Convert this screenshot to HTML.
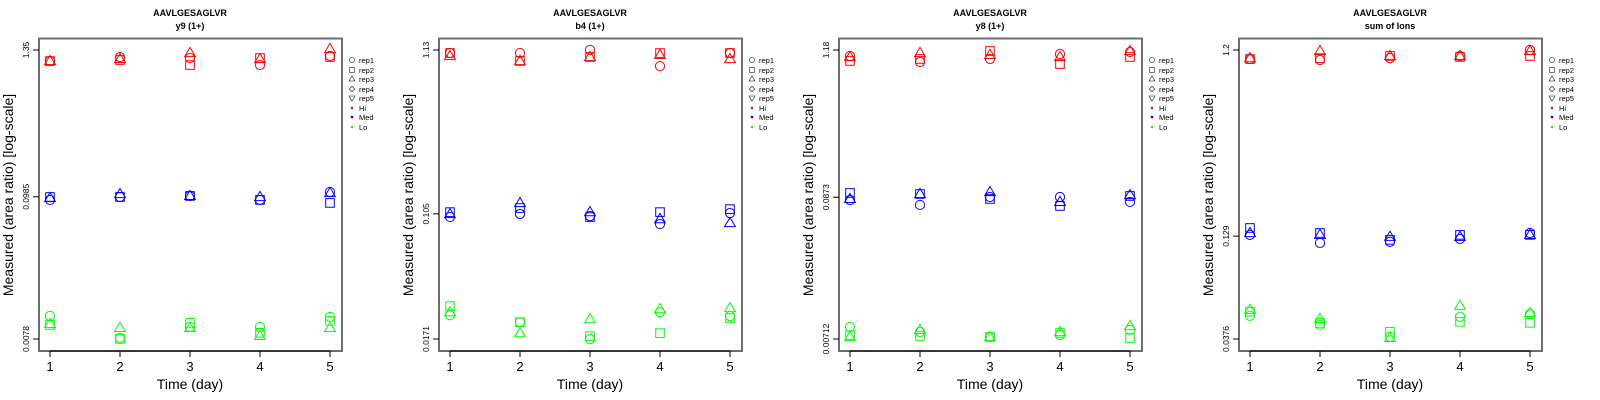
<!DOCTYPE html>
<html><head><meta charset="utf-8">
<style>
html,body{margin:0;padding:0;background:#fff;}
svg{display:block;font-family:"Liberation Sans",sans-serif;}
</style></head>
<body>
<svg id="chart" width="1600" height="400" viewBox="0 0 1600 400" xmlns="http://www.w3.org/2000/svg"></svg>
<script>
// ---- data (log10 of measured area ratio) ----
const days = [1, 2, 3, 4, 5];
const panelTitles = ["y9 (1+)", "b4 (1+)", "y8 (1+)", "sum of Ions"];
const peptide = "AAVLGESAGLVR";
const tickLabels = [["1.35", "0.0985", "0.0078"], ["1.13", "0.105", "0.0171"], ["1.18", "0.0873", "0.00712"], ["1.2", "0.129", "0.0376"]];
const tickValues = [[1.35, 0.0985, 0.0078], [1.13, 0.105, 0.0171], [1.18, 0.0873, 0.00712], [1.2, 0.129, 0.0376]];
const levels = ["Hi", "Med", "Lo"];
const reps = ["rep1", "rep2", "rep3", "rep4", "rep5"];
// each: [day][rep1,rep2,rep3]
const p1Hi  = [[0.045,0.045,0.045],[0.075,0.053,0.060],[0.068,0.014,0.107],[0.014,0.068,0.060],[0.084,0.076,0.138]];
const p1Med = [[-1.031,-1.008,-1.016],[-1.008,-1.008,-0.985],[-1.000,-1.000,-1.000],[-1.031,-1.031,-1.008],[-0.969,-1.054,-0.977]];
const p1Lo  = [[-1.929,-1.999,-1.991],[-2.099,-2.107,-2.022],[-2.014,-1.983,-2.022],[-2.014,-2.060,-2.084],[-1.937,-1.968,-2.022]];
const p2Hi  = [[0.034,0.034,0.015],[0.034,-0.016,-0.016],[0.053,0.009,0.009],[-0.048,0.034,0.022],[0.034,0.034,-0.004]];
const p2Med = [[-0.999,-0.968,-0.980],[-0.980,-0.942,-0.911],[-0.993,-0.999,-0.968],[-1.043,-0.968,-1.012],[-0.974,-0.949,-1.037]];
const p2Lo  = [[-1.617,-1.560,-1.598],[-1.661,-1.661,-1.730],[-1.768,-1.749,-1.642],[-1.598,-1.730,-1.579],[-1.623,-1.635,-1.572]];
const p3Hi  = [[0.026,-0.012,0.018],[-0.020,0.003,0.049],[0.003,0.064,0.034],[0.041,-0.036,0.018],[0.057,0.018,0.064]];
const p3Med = [[-1.080,-1.026,-1.072],[-1.118,-1.034,-1.034],[-1.057,-1.072,-1.019],[-1.057,-1.126,-1.095],[-1.095,-1.049,-1.042]];
const p3Lo  = [[-2.055,-2.117,-2.132],[-2.094,-2.124,-2.078],[-2.132,-2.132,-2.132],[-2.117,-2.101,-2.094],[-2.078,-2.140,-2.048]];
const p4Hi  = [[0.032,0.032,0.037],[0.027,0.037,0.074],[0.037,0.048,0.048],[0.048,0.043,0.048],[0.079,0.048,0.074]];
const p4Med = [[-0.883,-0.847,-0.873],[-0.925,-0.873,-0.883],[-0.919,-0.909,-0.893],[-0.904,-0.883,-0.893],[-0.873,-0.883,-0.883]];
const p4Lo  = [[-1.304,-1.283,-1.273],[-1.351,-1.341,-1.320],[-1.413,-1.387,-1.419],[-1.309,-1.335,-1.252],[-1.294,-1.341,-1.289]];
const panelData = [[p1Hi,p1Med,p1Lo],[p2Hi,p2Med,p2Lo],[p3Hi,p3Med,p3Lo],[p4Hi,p4Med,p4Lo]];

const colors = ["#ff0000", "#0000ff", "#00ff00"];
const NS = "http://www.w3.org/2000/svg";
const svg = document.getElementById("chart");
function mk(tag, attrs, parent) {
  const e = document.createElementNS(NS, tag);
  for (const k in attrs) e.setAttribute(k, attrs[k]);
  (parent || svg).appendChild(e);
  return e;
}
function marker(g, shape, cx, cy, col) {
  let e;
  if (shape === 0) e = mk("circle", {cx: cx, cy: cy, r: 4.6, fill: "none", stroke: col, "stroke-width": 1}, g);
  else if (shape === 1) e = mk("rect", {x: cx - 4.3, y: cy - 4.3, width: 8.6, height: 8.6, fill: "none", stroke: col, "stroke-width": 1}, g);
  else if (shape === 2) e = mk("polygon", {points: (cx-5.4)+","+(cy+3.6)+" "+(cx+5.4)+","+(cy+3.6)+" "+cx+","+(cy-5.6), fill: "none", stroke: col, "stroke-width": 1}, g);
  else if (shape === 3) e = mk("polygon", {points: cx+","+(cy-5)+" "+(cx+5)+","+cy+" "+cx+","+(cy+5)+" "+(cx-5)+","+cy, fill: "none", stroke: col, "stroke-width": 1}, g);
  else e = mk("polygon", {points: (cx-5.4)+","+(cy-3.6)+" "+(cx+5.4)+","+(cy-3.6)+" "+cx+","+(cy+5.6), fill: "none", stroke: col, "stroke-width": 1}, g);
  return e;
}

panelData.forEach(function (levelsData, p) {
  const ox = p * 400;
  const g = mk("g", {transform: "translate(" + ox + ",0)"});
  
  
  const top = Math.log10(tickValues[p][0]);
  const bot = Math.log10(tickValues[p][2]);
  const yScale = function (lv) { return 50 + (top - lv) / (top - bot) * 289; };
  const xScale = function (d) { return 50 + (d - 1) * 70; };

  const t1 = mk("text", {x: 190, y: 16, "text-anchor": "middle", "font-size": 9, "font-weight": "bold"}, g);
  t1.textContent = peptide;
  
  
  const t2 = mk("text", {x: 190, y: 29, "text-anchor": "middle", "font-size": 9, "font-weight": "bold"}, g);
  t2.textContent = panelTitles[p];
  
  

  const box = mk("rect", {x: 39, y: 38.5, width: 303, height: 312.5, fill: "none", stroke: "#6e6e6e", "stroke-width": 2}, g);
  
  

  days.forEach(function (d) {
    const x = xScale(d);
    mk("line", {x1: x, y1: 351, x2: x, y2: 357, stroke: "#000", "stroke-width": 1}, g);
    const lb = mk("text", {x: x, y: 371, "text-anchor": "middle", "font-size": 13}, g);
    lb.textContent = d;
    
    
  });
  mk("line", {x1: 50, y1: 351, x2: 330, y2: 351, stroke: "#000", "stroke-width": 1}, g);
  const xt = mk("text", {x: 190, y: 389, "text-anchor": "middle", "font-size": 14}, g);
  xt.textContent = "Time (day)";
  
  

  tickValues[p].forEach(function (v, i) {
    const y = yScale(Math.log10(v));
    mk("line", {x1: 33, y1: y, x2: 39, y2: y, stroke: "#000", "stroke-width": 1}, g);
    const lb = mk("text", {x: 0, y: 0, "text-anchor": "middle", "font-size": 8.5, transform: "translate(29," + y + ") rotate(-90)"}, g);
    lb.textContent = tickLabels[p][i];
    
    
  });
  const yt = mk("text", {x: 0, y: 0, "text-anchor": "middle", "font-size": 14, transform: "translate(13,195) rotate(-90)"}, g);
  yt.textContent = "Measured (area ratio) [log-scale]";
  
  

  levelsData.forEach(function (series, li) {
    series.forEach(function (vals, di) {
      vals.forEach(function (lv, ri) {
        const m = marker(g, ri, xScale(days[di]), yScale(lv), colors[li]);
        
        
      });
    });
  });

  const lg = mk("g", {}, g);
  
  
  const rowY = [60, 70, 79, 89, 98, 108, 117, 127];
  reps.forEach(function (r, i) {
    const s = mk("g", {}, lg);
    
    
    const sym = marker(s, i, 352, rowY[i], "#000");
    sym.setAttribute("transform", "translate(352," + rowY[i] + ") scale(0.55) translate(-352," + (-rowY[i]) + ")");
    const t = mk("text", {x: 359, y: rowY[i] + 3, "font-size": 7.5}, s);
    t.textContent = r;
  });
  levels.forEach(function (l, i) {
    const s = mk("g", {}, lg);
    
    
    mk("circle", {cx: 352, cy: rowY[5 + i], r: 1.3, fill: colors[i]}, s);
    const t = mk("text", {x: 359, y: rowY[5 + i] + 3, "font-size": 7.5}, s);
    t.textContent = l;
  });
});
</script>
</body></html>
